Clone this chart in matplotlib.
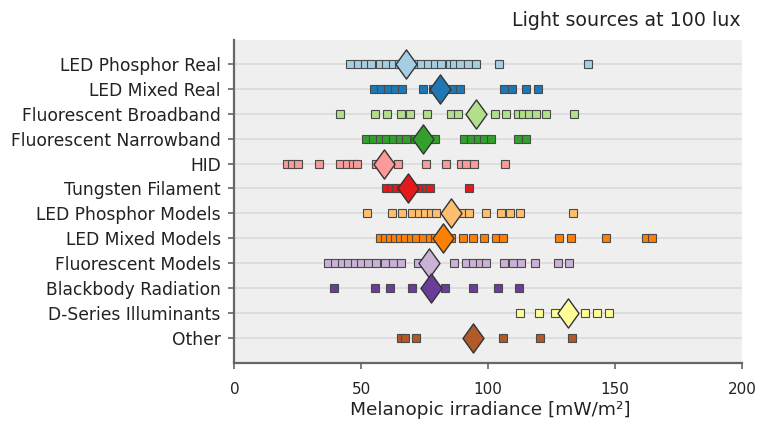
import matplotlib
matplotlib.use("Agg")
import matplotlib.pyplot as plt
from matplotlib.path import Path
import numpy as np

categories = ["LED Phosphor Real", "LED Mixed Real", "Fluorescent Broadband",
              "Fluorescent Narrowband", "HID", "Tungsten Filament",
              "LED Phosphor Models", "LED Mixed Models", "Fluorescent Models",
              "Blackbody Radiation", "D-Series Illuminants", "Other"]

led_phosphor_real = [45.5, 48.7, 51.4, 54.0, 57.3, 59.9, 62.5, 65.0, 71.0, 73.6, 76.3,
                     78.9, 81.5, 84.8, 86.5, 88.7, 92.0, 95.3, 104.4, 139.2]
led_mixed_real = [54.9, 57.9, 60.5, 63.2, 66.2, 74.3, 78.2, 85.8, 88.7, 106.4, 109.4,
                  114.9, 119.5]
fluorescent_broadband = [41.5, 55.5, 60.1, 65.8, 69.0, 75.9, 85.4, 88.1, 102.5, 107.1,
                         111.6, 113.6, 116.2, 118.8, 122.8, 133.9]
fluorescent_narrowband = [52.0, 54.6, 57.3, 59.9, 62.5, 65.1, 67.8, 71.0, 74.3, 77.0,
                          78.9, 90.6, 93.3, 95.9, 98.5, 101.2, 111.7, 114.9]
hid = [20.6, 22.5, 25.1, 33.4, 41.5, 44.2, 46.8, 48.5, 55.9, 64.5, 75.3, 83.5, 89.4,
       91.3, 94.6, 106.8]
tungsten_filament = [59.9, 61.8, 63.8, 65.8, 67.0, 70.5, 73.6, 75.6, 76.9, 92.3]
led_phosphor_models = [52.4, 62.2, 66.2, 70.1, 72.7, 75.0, 77.6, 79.3, 90.0, 92.4,
                       99.2, 105.1, 108.4, 112.6, 133.5]
led_mixed_models = [57.3, 59.2, 61.2, 63.2, 65.1, 67.1, 69.7, 71.7, 74.3, 76.9, 78.9,
                    85.4, 90.0, 94.2, 98.5, 103.1, 105.7, 128.0, 132.6, 146.4, 162.1, 164.5]
fluorescent_models = [36.9, 39.6, 42.2, 44.8, 47.4, 50.0, 52.7, 55.9, 59.2, 62.5, 65.8,
                      72.3, 86.7, 91.3, 94.0, 96.6, 99.2, 106.4, 109.7, 113.0, 118.6,
                      127.4, 132.0]
blackbody_radiation = [39.2, 55.3, 61.5, 70.0, 82.8, 94.2, 103.8, 112.3]
d_series_illuminants = [112.6, 120.2, 126.5, 138.3, 142.9, 147.4]
other = [65.8, 67.1, 71.4, 106.0, 120.5, 132.9]

series = [led_phosphor_real, led_mixed_real, fluorescent_broadband, fluorescent_narrowband,
          hid, tungsten_filament, led_phosphor_models, led_mixed_models, fluorescent_models,
          blackbody_radiation, d_series_illuminants, other]

means = [67.7, 81.1, 95.0, 74.3, 58.8, 68.4, 85.4, 82.1, 76.7, 77.3, 131.3, 94.0]

colors = ["#a6cee3", "#1f78b4", "#b2df8a", "#33a02c", "#fb9a99", "#e31a1c",
          "#fdbf6f", "#ff7f00", "#cab2d6", "#6a3d9a", "#ffff99", "#b15928"]

xticks = [0, 50, 100, 150, 200]

fig = plt.figure(figsize=(7.59, 4.28), dpi=100)
ax = fig.add_axes([234.4 / 759, 1 - 362.7 / 428, (742 - 234.4) / 759, (362.7 - 40) / 428])
ax.set_facecolor("#efefef")

diamond = Path([(0, 1), (0.72, 0), (0, -1), (-0.72, 0), (0, 1)],
               [Path.MOVETO, Path.LINETO, Path.LINETO, Path.LINETO, Path.CLOSEPOLY])

for i, (vals, m, c) in enumerate(zip(series, means, colors)):
    ax.axhline(i, color="#dcdcdc", lw=1.3, zorder=1)
    ax.plot(vals, [i] * len(vals), linestyle="none", marker="s", markersize=5.4,
            markerfacecolor=c, markeredgecolor="#4a4a4a", markeredgewidth=0.8, zorder=3)
    ax.plot([m], [i], linestyle="none", marker=diamond, markersize=21,
            markerfacecolor=c, markeredgecolor="#333333", markeredgewidth=1.0, zorder=4)

ax.set_xlim(0, 200)
ax.set_ylim(12.0, -0.965)
ax.set_yticks(range(len(categories)))
ax.set_yticklabels(categories, fontsize=12.3, color="#222222")
ax.set_xticks(xticks)
ax.set_xticklabels([str(t) for t in xticks], fontsize=11, color="#222222")

for s in ["top", "right"]:
    ax.spines[s].set_visible(False)
for s in ["left", "bottom"]:
    ax.spines[s].set_color("#666666")
    ax.spines[s].set_linewidth(1.6)

ax.tick_params(axis="y", length=4.3, width=1.2, color="#666666", pad=5.5)
ax.tick_params(axis="x", length=4.0, width=1.2, color="#666666", pad=10)

ax.set_xlabel("Melanopic irradiance [mW/m²]", fontsize=13.3, color="#222222")
ax.xaxis.label.set_verticalalignment("baseline")
ax.xaxis.set_label_coords(0.5035, -0.162)

fig.text(741 / 759, 1 - 26 / 428, "Light sources at 100 lux", ha="right", va="baseline",
         fontsize=13.7, color="#222222")

fig.savefig("out.png", dpi=100)
